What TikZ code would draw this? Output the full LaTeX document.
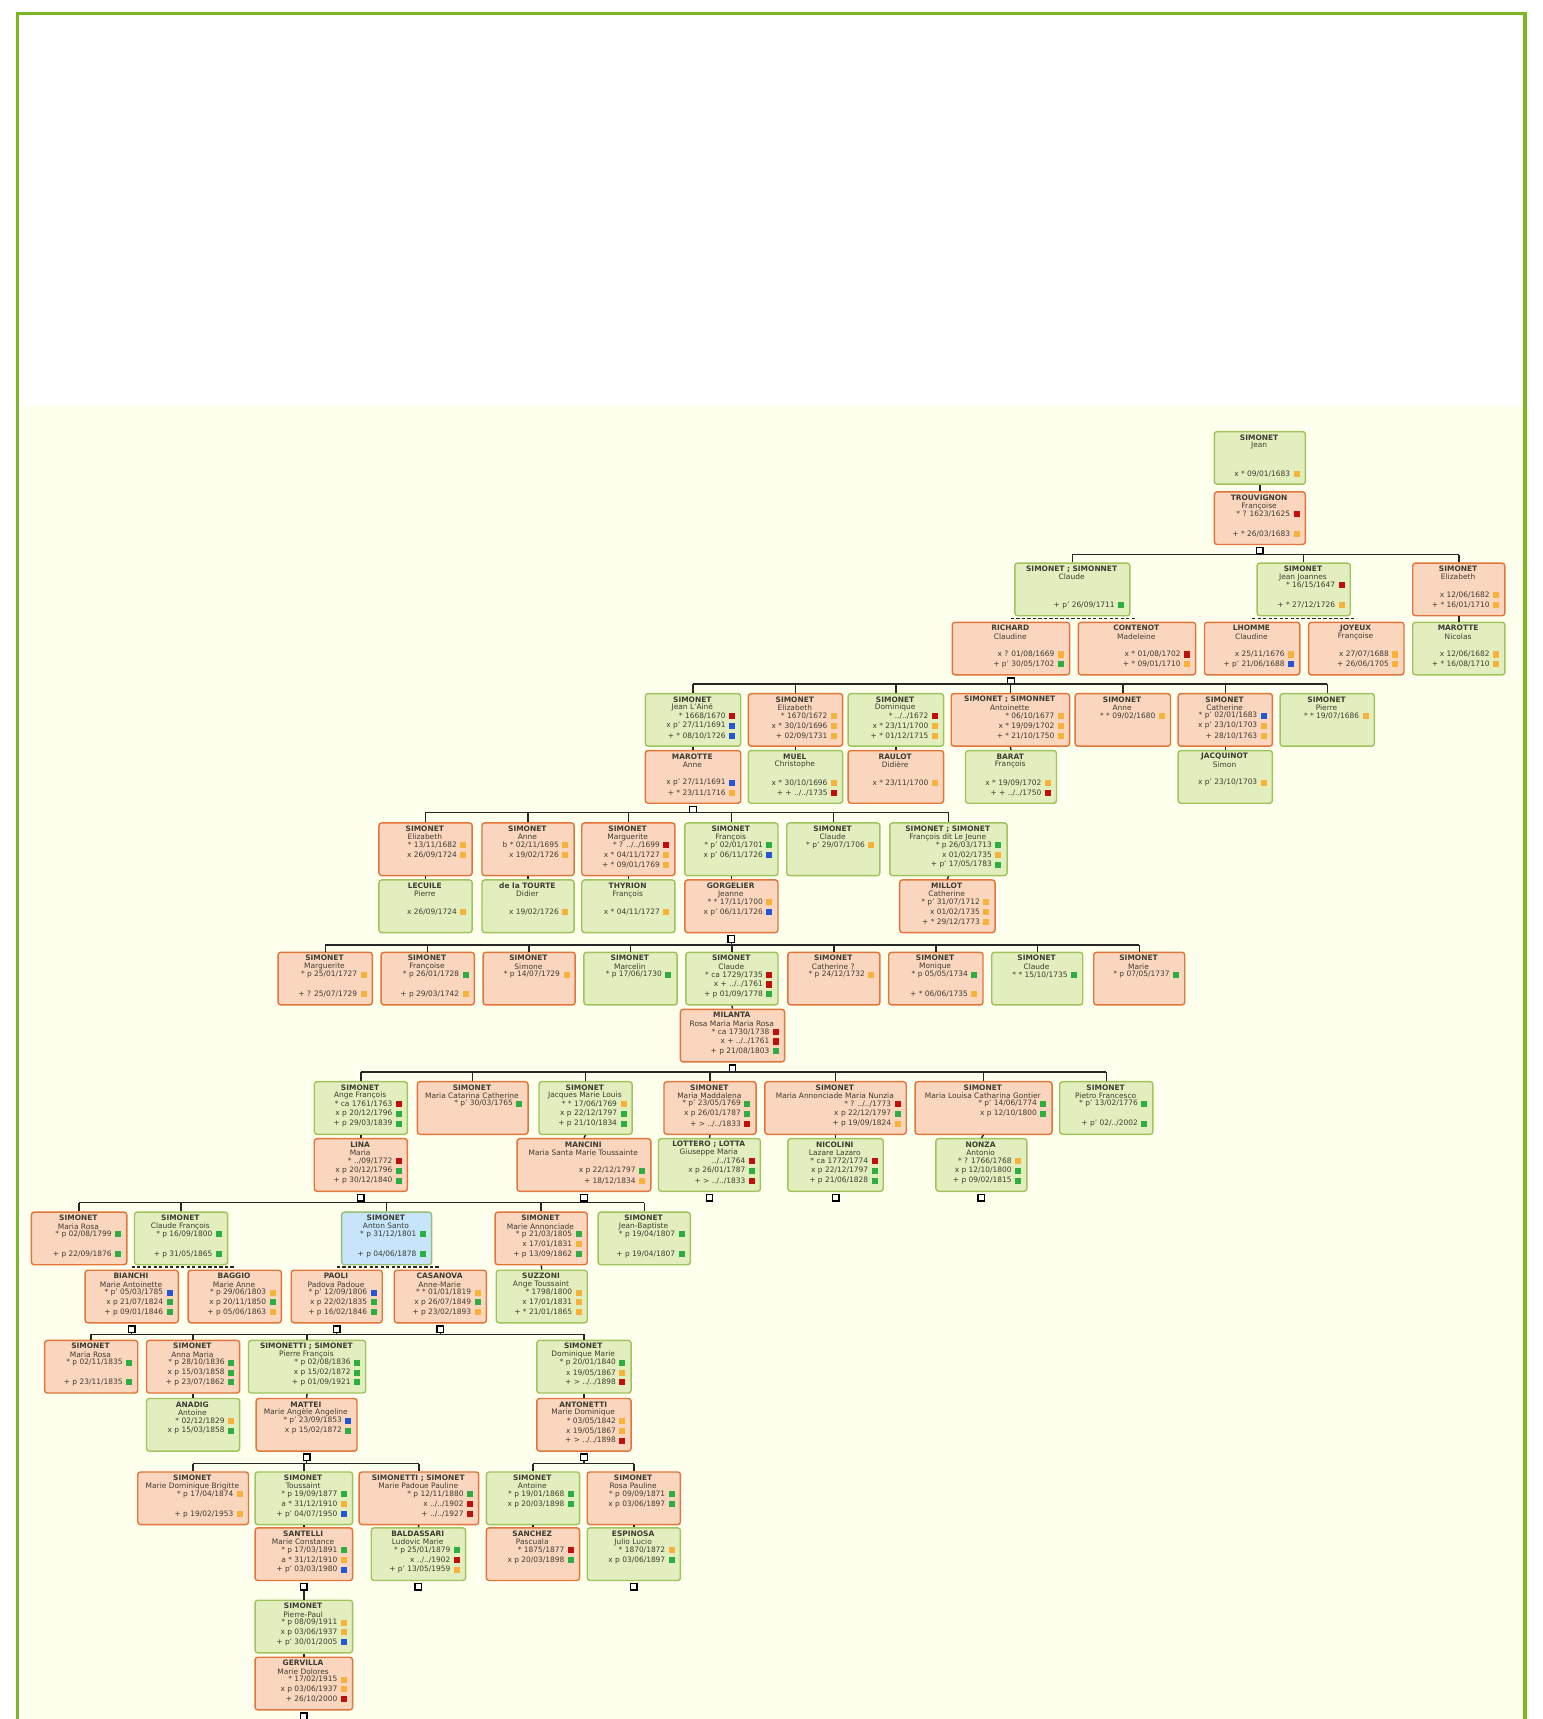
\documentclass[tikz,border=0pt]{standalone}
\usepackage{fontspec}
\setmainfont{DejaVu Sans}
\usetikzlibrary{positioning}
\definecolor{obfill}{RGB}{250,214,190}
\definecolor{obdraw}{RGB}{226,118,58}
\definecolor{gbfill}{RGB}{226,238,190}
\definecolor{gbdraw}{RGB}{160,196,92}
\definecolor{bbfill}{RGB}{198,228,250}
\definecolor{bbdraw}{RGB}{150,190,120}
\definecolor{cream}{RGB}{255,255,238}
\definecolor{framegreen}{RGB}{122,184,30}
\definecolor{sqo}{RGB}{246,178,58}
\definecolor{sqr}{RGB}{192,16,12}
\definecolor{sqg}{RGB}{44,174,64}
\definecolor{sqb}{RGB}{36,86,216}
\definecolor{txt}{RGB}{60,60,50}
\tikzset{
 pbase/.style={rectangle, rounded corners=2.5pt, line width=1.3pt, minimum height=48pt, inner sep=0pt},
 ob/.style={pbase, fill=obfill, draw=obdraw},
 gb/.style={pbase, fill=gbfill, draw=gbdraw},
 bb/.style={pbase, fill=bbfill, draw=bbdraw},
 sn/.style={font=\fontsize{6.8}{7}\selectfont\bfseries, inner sep=0pt, text=txt},
 fn/.style={font=\fontsize{6.8}{7}\selectfont, inner sep=0pt, text=txt},
 dt/.style={font=\fontsize{6.8}{7}\selectfont, inner sep=0pt, text=txt, anchor=east},
 conn/.style={line width=1.3pt, draw=black!85},
 dconn/.style={line width=1.3pt, draw=black!85, dash pattern=on 3pt off 2pt},
 famm/.style={rectangle, draw=black, fill=white, line width=1.2pt, minimum size=6pt, inner sep=0pt},
}
\newcommand\pbox[7]{%
 \node[#2, minimum width={#4-#3}, anchor=north west] (#1) at (#3,#5) {};
 \node[sn] at ({(#3+#4)/2},#5+6) {#6};
 \node[fn] at ({(#3+#4)/2},#5+13.5) {#7};
 \gdef\curR{#4}\gdef\curT{#5}}
\newcommand\pl[3]{%
 \node[dt] at (\curR-13,\curT+#1) {#2};
 \fill[#3] (\curR-10,\curT+#1-2.75) rectangle ++(5.5,5.5);}
\newcommand\famline[5]{%
 \draw[conn] (#1.south) -- (#1.south |- 0,#2);
 \draw[conn] (#3.north |- 0,#2) -- (#4.north |- 0,#2);
 \foreach \n in {#5}{\draw[conn] (\n.north) -- (\n.north |- 0,#2);}}
\newcommand\spouse[2]{\draw[conn] (#1.south) -- (#2.north);}
\newcommand\fmark[2]{\node[famm, below=1.5pt of #2] (#1) {};}
\begin{document}
\begin{tikzpicture}[x=1pt,y=-1pt]
\useasboundingbox (0,0) rectangle (1407,1568);
\fill[white] (0,0) rectangle (1407,1568);
\fill[cream] (20,370) rectangle (1389,1568);
\draw[framegreen, line width=3pt] (16,12.5) rectangle (1391,1600);
% Row 1
\pbox{jean}{gb}{1107}{1190}{393}{SIMONET}{Jean}\pl{39}{x * 09/01/1683}{sqo}
\pbox{trouv}{ob}{1107}{1190}{448}{TROUVIGNON}{Françoise}\pl{21}{* ? 1623/1625}{sqr}\pl{39}{+ * 26/03/1683}{sqo}
% Row 2
\pbox{claude}{gb}{925}{1030}{513}{SIMONET ; SIMONNET}{Claude}\pl{39}{+ p' 26/09/1711}{sqg}
\pbox{jj}{gb}{1146}{1231}{513}{SIMONET}{Jean Joannes}\pl{21}{* 16/15/1647}{sqr}\pl{39}{+ * 27/12/1726}{sqo}
\pbox{eliz}{ob}{1288}{1372}{513}{SIMONET}{Elizabeth}\pl{30}{x 12/06/1682}{sqo}\pl{39}{+ * 16/01/1710}{sqo}
\pbox{richard}{ob}{868}{975}{567}{RICHARD}{Claudine}\pl{30}{x ? 01/08/1669}{sqo}\pl{39}{+ p' 30/05/1702}{sqg}
\pbox{contenot}{ob}{983}{1090}{567}{CONTENOT}{Madeleine}\pl{30}{x * 01/08/1702}{sqr}\pl{39}{+ * 09/01/1710}{sqo}
\pbox{lhomme}{ob}{1098}{1185}{567}{LHOMME}{Claudine}\pl{30}{x 25/11/1676}{sqo}\pl{39}{+ p' 21/06/1688}{sqb}
\pbox{joyeux}{ob}{1193}{1280}{567}{JOYEUX}{Françoise}\pl{30}{x 27/07/1688}{sqo}\pl{39}{+ 26/06/1705}{sqo}
\pbox{marotten}{gb}{1288}{1372}{567}{MAROTTE}{Nicolas}\pl{30}{x 12/06/1682}{sqo}\pl{39}{+ * 16/08/1710}{sqo}
% Row 3
\pbox{jla}{gb}{588}{675}{632}{SIMONET}{Jean L'Ainé}\pl{21}{* 1668/1670}{sqr}\pl{30}{x p' 27/11/1691}{sqb}\pl{39}{+ * 08/10/1726}{sqb}
\pbox{marottea}{ob}{588}{675}{684}{MAROTTE}{Anne}\pl{30}{x p' 27/11/1691}{sqb}\pl{39}{+ * 23/11/1716}{sqo}
\pbox{eliz2}{ob}{682}{768}{632}{SIMONET}{Elizabeth}\pl{21}{* 1670/1672}{sqo}\pl{30}{x * 30/10/1696}{sqo}\pl{39}{+ 02/09/1731}{sqo}
\pbox{muel}{gb}{682}{768}{684}{MUEL}{Christophe}\pl{30}{x * 30/10/1696}{sqo}\pl{39}{+ + ../../1735}{sqr}
\pbox{domin}{gb}{773}{860}{632}{SIMONET}{Dominique}\pl{21}{* ../../1672}{sqr}\pl{30}{x * 23/11/1700}{sqo}\pl{39}{+ * 01/12/1715}{sqo}
\pbox{raulot}{ob}{773}{860}{684}{RAULOT}{Didière}\pl{30}{x * 23/11/1700}{sqo}
\pbox{antoin}{ob}{867}{975}{632}{SIMONET ; SIMONNET}{Antoinette}\pl{21}{* 06/10/1677}{sqo}\pl{30}{x * 19/09/1702}{sqo}\pl{39}{+ * 21/10/1750}{sqo}
\pbox{barat}{gb}{880}{963}{684}{BARAT}{François}\pl{30}{x * 19/09/1702}{sqo}\pl{39}{+ + ../../1750}{sqr}
\pbox{anne1}{ob}{980}{1067}{632}{SIMONET}{Anne}\pl{21}{* * 09/02/1680}{sqo}
\pbox{cath1}{ob}{1074}{1160}{632}{SIMONET}{Catherine}\pl{21}{* p' 02/01/1683}{sqb}\pl{30}{x p' 23/10/1703}{sqo}\pl{39}{+ 28/10/1763}{sqo}
\pbox{jacq}{gb}{1074}{1160}{684}{JACQUINOT}{Simon}\pl{30}{x p' 23/10/1703}{sqo}
\pbox{pierre1}{gb}{1167}{1253}{632}{SIMONET}{Pierre}\pl{21}{* * 19/07/1686}{sqo}
% Row 4
\pbox{eliz3}{ob}{345}{430}{750}{SIMONET}{Elizabeth}\pl{21}{* 13/11/1682}{sqo}\pl{30}{x 26/09/1724}{sqo}
\pbox{lecuile}{gb}{345}{430}{802}{LECUILE}{Pierre}\pl{30}{x 26/09/1724}{sqo}
\pbox{anne2}{ob}{439}{523}{750}{SIMONET}{Anne}\pl{21}{b * 02/11/1695}{sqo}\pl{30}{x 19/02/1726}{sqo}
\pbox{tourte}{gb}{439}{523}{802}{de la TOURTE}{Didier}\pl{30}{x 19/02/1726}{sqo}
\pbox{marg1}{ob}{530}{615}{750}{SIMONET}{Marguerite}\pl{21}{* ? ../../1699}{sqr}\pl{30}{x * 04/11/1727}{sqo}\pl{39}{+ * 09/01/1769}{sqo}
\pbox{thyrion}{gb}{530}{615}{802}{THYRION}{François}\pl{30}{x * 04/11/1727}{sqo}
\pbox{franc1}{gb}{624}{709}{750}{SIMONET}{François}\pl{21}{* p' 02/01/1701}{sqg}\pl{30}{x p' 06/11/1726}{sqb}
\pbox{gorgel}{ob}{624}{709}{802}{GORGELIER}{Jeanne}\pl{21}{* * 17/11/1700}{sqo}\pl{30}{x p' 06/11/1726}{sqb}
\pbox{claude2}{gb}{717}{802}{750}{SIMONET}{Claude}\pl{21}{* p' 29/07/1706}{sqo}
\pbox{fdlj}{gb}{811}{918}{750}{SIMONET ; SIMONET}{François dit Le Jeune}\pl{21}{* p 26/03/1713}{sqg}\pl{30}{x 01/02/1735}{sqo}\pl{39}{+ p' 17/05/1783}{sqg}
\pbox{millot}{ob}{820}{907}{802}{MILLOT}{Catherine}\pl{21}{* p' 31/07/1712}{sqo}\pl{30}{x 01/02/1735}{sqo}\pl{39}{+ * 29/12/1773}{sqo}
% Row 5
\pbox{marg2}{ob}{253}{339}{868}{SIMONET}{Marguerite}\pl{21}{* p 25/01/1727}{sqo}\pl{39}{+ ? 25/07/1729}{sqo}
\pbox{franc2}{ob}{347}{432}{868}{SIMONET}{Françoise}\pl{21}{* p 26/01/1728}{sqg}\pl{39}{+ p 29/03/1742}{sqo}
\pbox{simone}{ob}{440}{524}{868}{SIMONET}{Simone}\pl{21}{* p 14/07/1729}{sqo}
\pbox{marcel}{gb}{532}{617}{868}{SIMONET}{Marcelin}\pl{21}{* p 17/06/1730}{sqg}
\pbox{claude3}{gb}{625}{709}{868}{SIMONET}{Claude}\pl{21}{* ca 1729/1735}{sqr}\pl{30}{x + ../../1761}{sqr}\pl{39}{+ p 01/09/1778}{sqg}
\pbox{milanta}{ob}{620}{715}{920}{MILANTA}{Rosa Maria Maria Rosa}\pl{21}{* ca 1730/1738}{sqr}\pl{30}{x + ../../1761}{sqr}\pl{39}{+ p 21/08/1803}{sqg}
\pbox{cath2}{ob}{718}{802}{868}{SIMONET}{Catherine ?}\pl{21}{* p 24/12/1732}{sqo}
\pbox{moniq}{ob}{810}{896}{868}{SIMONET}{Monique}\pl{21}{* p 05/05/1734}{sqg}\pl{39}{+ * 06/06/1735}{sqo}
\pbox{claude4}{gb}{904}{987}{868}{SIMONET}{Claude}\pl{21}{* * 15/10/1735}{sqg}
\pbox{marie1}{ob}{997}{1080}{868}{SIMONET}{Marie}\pl{21}{* p 07/05/1737}{sqg}
% Row 6
\pbox{ange}{gb}{286}{371}{986}{SIMONET}{Ange François}\pl{21}{* ca 1761/1763}{sqr}\pl{30}{x p 20/12/1796}{sqg}\pl{39}{+ p 29/03/1839}{sqg}
\pbox{lina}{ob}{286}{371}{1038}{LINA}{Maria}\pl{21}{* ../09/1772}{sqr}\pl{30}{x p 20/12/1796}{sqg}\pl{39}{+ p 30/12/1840}{sqg}
\pbox{catarina}{ob}{380}{481}{986}{SIMONET}{Maria Catarina Catherine}\pl{21}{* p' 30/03/1765}{sqg}
\pbox{jacques}{gb}{491}{576}{986}{SIMONET}{Jacques Marie Louis}\pl{21}{* * 17/06/1769}{sqo}\pl{30}{x p 22/12/1797}{sqg}\pl{39}{+ p 21/10/1834}{sqg}
\pbox{mancini}{ob}{471}{593}{1038}{MANCINI}{Maria Santa Marie Toussainte}\pl{30}{x p 22/12/1797}{sqg}\pl{39}{+ 18/12/1834}{sqo}
\pbox{madd}{ob}{605}{689}{986}{SIMONET}{Maria Maddalena}\pl{21}{* p' 23/05/1769}{sqg}\pl{30}{x p 26/01/1787}{sqg}\pl{39}{+ > ../../1833}{sqr}
\pbox{lottero}{gb}{600}{693}{1038}{LOTTERO ; LOTTA}{Giuseppe Maria}\pl{21}{../../1764}{sqr}\pl{30}{x p 26/01/1787}{sqg}\pl{39}{+ > ../../1833}{sqr}
\pbox{annunz}{ob}{697}{826}{986}{SIMONET}{Maria Annonciade Maria Nunzia}\pl{21}{* ? ../../1773}{sqr}\pl{30}{x p 22/12/1797}{sqg}\pl{39}{+ p 19/09/1824}{sqo}
\pbox{nicolini}{gb}{718}{805}{1038}{NICOLINI}{Lazare Lazaro}\pl{21}{* ca 1772/1774}{sqr}\pl{30}{x p 22/12/1797}{sqg}\pl{39}{+ p 21/06/1828}{sqg}
\pbox{louisa}{ob}{834}{959}{986}{SIMONET}{Maria Louisa Catharina Gontier}\pl{21}{* p' 14/06/1774}{sqg}\pl{30}{x p 12/10/1800}{sqg}
\pbox{nonza}{gb}{853}{936}{1038}{NONZA}{Antonio}\pl{21}{* ? 1766/1768}{sqo}\pl{30}{x p 12/10/1800}{sqg}\pl{39}{+ p 09/02/1815}{sqg}
\pbox{pietro}{gb}{966}{1051}{986}{SIMONET}{Pietro Francesco}\pl{21}{* p' 13/02/1776}{sqg}\pl{39}{+ p' 02/../2002}{sqg}
% Row 7
\pbox{mrosa1}{ob}{28}{115}{1105}{SIMONET}{Maria Rosa}\pl{21}{* p 02/08/1799}{sqg}\pl{39}{+ p 22/09/1876}{sqg}
\pbox{cfranc}{gb}{122}{207}{1105}{SIMONET}{Claude François}\pl{21}{* p 16/09/1800}{sqg}\pl{39}{+ p 31/05/1865}{sqg}
\pbox{bianchi}{ob}{77}{162}{1158}{BIANCHI}{Marie Antoinette}\pl{21}{* p' 05/03/1785}{sqb}\pl{30}{x p 21/07/1824}{sqg}\pl{39}{+ p 09/01/1846}{sqg}
\pbox{baggio}{ob}{171}{256}{1158}{BAGGIO}{Marie Anne}\pl{21}{* p 29/06/1803}{sqo}\pl{30}{x p 20/11/1850}{sqg}\pl{39}{+ p 05/06/1863}{sqo}
\pbox{anton}{bb}{311}{393}{1105}{SIMONET}{Anton Santo}\pl{21}{* p 31/12/1801}{sqg}\pl{39}{+ p 04/06/1878}{sqg}
\pbox{paoli}{ob}{265}{348}{1158}{PAOLI}{Padova Padoue}\pl{21}{* p' 12/09/1806}{sqb}\pl{30}{x p 22/02/1835}{sqg}\pl{39}{+ p 16/02/1846}{sqg}
\pbox{casanova}{ob}{359}{443}{1158}{CASANOVA}{Anne-Marie}\pl{21}{* * 01/01/1819}{sqo}\pl{30}{x p 26/07/1849}{sqg}\pl{39}{+ p 23/02/1893}{sqo}
\pbox{mannon}{ob}{451}{535}{1105}{SIMONET}{Marie Annonciade}\pl{21}{* p 21/03/1805}{sqg}\pl{30}{x 17/01/1831}{sqo}\pl{39}{+ p 13/09/1862}{sqg}
\pbox{suzzoni}{gb}{452}{535}{1158}{SUZZONI}{Ange Toussaint}\pl{21}{* 1798/1800}{sqo}\pl{30}{x 17/01/1831}{sqo}\pl{39}{+ * 21/01/1865}{sqo}
\pbox{jb}{gb}{545}{629}{1105}{SIMONET}{Jean-Baptiste}\pl{21}{* p 19/04/1807}{sqg}\pl{39}{+ p 19/04/1807}{sqg}
% Row 8
\pbox{mrosa2}{ob}{40}{125}{1222}{SIMONET}{Maria Rosa}\pl{21}{* p 02/11/1835}{sqg}\pl{39}{+ p 23/11/1835}{sqg}
\pbox{annam}{ob}{133}{218}{1222}{SIMONET}{Anna Maria}\pl{21}{* p 28/10/1836}{sqg}\pl{30}{x p 15/03/1858}{sqg}\pl{39}{+ p 23/07/1862}{sqg}
\pbox{anadig}{gb}{133}{218}{1275}{ANADIG}{Antoine}\pl{21}{* 02/12/1829}{sqo}\pl{30}{x p 15/03/1858}{sqg}
\pbox{pfranc}{gb}{226}{333}{1222}{SIMONETTI ; SIMONET}{Pierre François}\pl{21}{* p 02/08/1836}{sqg}\pl{30}{x p 15/02/1872}{sqg}\pl{39}{+ p 01/09/1921}{sqg}
\pbox{mattei}{ob}{233}{325}{1275}{MATTEI}{Marie Angèle Angeline}\pl{21}{* p' 23/09/1853}{sqb}\pl{30}{x p 15/02/1872}{sqg}
\pbox{dmarie}{gb}{489}{575}{1222}{SIMONET}{Dominique Marie}\pl{21}{* p 20/01/1840}{sqg}\pl{30}{x 19/05/1867}{sqo}\pl{39}{+ > ../../1898}{sqr}
\pbox{antonetti}{ob}{489}{575}{1275}{ANTONETTI}{Marie Dominique}\pl{21}{* 03/05/1842}{sqo}\pl{30}{x 19/05/1867}{sqo}\pl{39}{+ > ../../1898}{sqr}
% Row 9
\pbox{brig}{ob}{125}{226}{1342}{SIMONET}{Marie Dominique Brigitte}\pl{21}{* p 17/04/1874}{sqo}\pl{39}{+ p 19/02/1953}{sqo}
\pbox{touss}{gb}{232}{321}{1342}{SIMONET}{Toussaint}\pl{21}{* p 19/09/1877}{sqg}\pl{30}{a * 31/12/1910}{sqo}\pl{39}{+ p' 04/07/1950}{sqb}
\pbox{santelli}{ob}{232}{321}{1393}{SANTELLI}{Marie Constance}\pl{21}{* p 17/03/1891}{sqg}\pl{30}{a * 31/12/1910}{sqo}\pl{39}{+ p' 03/03/1980}{sqb}
\pbox{pauline}{ob}{327}{436}{1342}{SIMONETTI ; SIMONET}{Marie Padoue Pauline}\pl{21}{* p 12/11/1880}{sqg}\pl{30}{x ../../1902}{sqr}\pl{39}{+ ../../1927}{sqr}
\pbox{baldas}{gb}{338}{424}{1393}{BALDASSARI}{Ludovic Marie}\pl{21}{* p 25/01/1879}{sqg}\pl{30}{x ../../1902}{sqr}\pl{39}{+ p' 13/05/1959}{sqo}
\pbox{antoine}{gb}{443}{528}{1342}{SIMONET}{Antoine}\pl{21}{* p 19/01/1868}{sqg}\pl{30}{x p 20/03/1898}{sqg}
\pbox{sanchez}{ob}{443}{528}{1393}{SANCHEZ}{Pascuala}\pl{21}{* 1875/1877}{sqr}\pl{30}{x p 20/03/1898}{sqg}
\pbox{rosap}{ob}{535}{620}{1342}{SIMONET}{Rosa Pauline}\pl{21}{* p 09/09/1871}{sqg}\pl{30}{x p 03/06/1897}{sqg}
\pbox{espinosa}{gb}{535}{620}{1393}{ESPINOSA}{Julio Lucio}\pl{21}{* 1870/1872}{sqo}\pl{30}{x p 03/06/1897}{sqg}
% Row 10
\pbox{ppaul}{gb}{232}{321}{1459}{SIMONET}{Pierre-Paul}\pl{21}{* p 08/09/1911}{sqo}\pl{30}{x p 03/06/1937}{sqo}\pl{39}{+ p' 30/01/2005}{sqb}
\pbox{gervilla}{ob}{232}{321}{1511}{GERVILLA}{Marie Dolores}\pl{21}{* 17/02/1915}{sqo}\pl{30}{x p 03/06/1937}{sqo}\pl{39}{+ 26/10/2000}{sqr}
% spouse links
\spouse{jean}{trouv}\spouse{eliz}{marotten}
\spouse{jla}{marottea}\spouse{eliz2}{muel}\spouse{domin}{raulot}\spouse{antoin}{barat}\spouse{cath1}{jacq}
\spouse{eliz3}{lecuile}\spouse{anne2}{tourte}\spouse{marg1}{thyrion}\spouse{franc1}{gorgel}\spouse{fdlj}{millot}
\spouse{claude3}{milanta}
\spouse{ange}{lina}\spouse{jacques}{mancini}\spouse{madd}{lottero}\spouse{annunz}{nicolini}\spouse{louisa}{nonza}
\spouse{mannon}{suzzoni}
\spouse{annam}{anadig}\spouse{pfranc}{mattei}\spouse{dmarie}{antonetti}
\spouse{touss}{santelli}\spouse{pauline}{baldas}\spouse{antoine}{sanchez}\spouse{rosap}{espinosa}
\spouse{ppaul}{gervilla}
% multiple marriages
\draw[dconn] (richard.north |- 0,564) -- (contenot.north |- 0,564);
\draw[dconn] (lhomme.north |- 0,564) -- (joyeux.north |- 0,564);
\draw[dconn] (bianchi.north |- 0,1155.5) -- (baggio.north |- 0,1155.5);
\draw[dconn] (paoli.north |- 0,1155.5) -- (casanova.north |- 0,1155.5);
% family markers
\fmark{ftrouv}{trouv}\fmark{frichard}{richard}\fmark{fmarottea}{marottea}\fmark{fgorgel}{gorgel}
\fmark{fmilanta}{milanta}\fmark{flina}{lina}\fmark{fmancini}{mancini}\fmark{flottero}{lottero}
\fmark{fnicolini}{nicolini}\fmark{fnonza}{nonza}\fmark{fbianchi}{bianchi}\fmark{fpaoli}{paoli}
\fmark{fcasanova}{casanova}\fmark{fmattei}{mattei}\fmark{fantonetti}{antonetti}\fmark{fsantelli}{santelli}
\fmark{fbaldas}{baldas}\fmark{fespinosa}{espinosa}\fmark{fgervilla}{gervilla}
% descent lines
\famline{ftrouv}{506}{claude}{eliz}{claude,jj,eliz}
\famline{frichard}{624}{jla}{pierre1}{jla,eliz2,domin,antoin,anne1,cath1,pierre1}
\famline{fmarottea}{741}{eliz3}{fdlj}{eliz3,anne2,marg1,franc1,claude2,fdlj}
\famline{fgorgel}{862}{marg2}{marie1}{marg2,franc2,simone,marcel,claude3,cath2,moniq,claude4,marie1}
\famline{fmilanta}{978}{ange}{pietro}{ange,catarina,jacques,madd,annunz,louisa,pietro}
\famline{flina}{1097}{mrosa1}{jb}{mrosa1,cfranc,anton,mannon,jb}
\draw[conn] (fmancini.south) -- (fmancini.south |- 0,1097);
\famline{fbianchi}{1217}{mrosa2}{dmarie}{mrosa2,annam,pfranc,dmarie}
\draw[conn] (fpaoli.south) -- (fpaoli.south |- 0,1217);
\draw[conn] (fcasanova.south) -- (fcasanova.south |- 0,1217);
\famline{fmattei}{1335}{brig}{pauline}{brig,touss,pauline}
\famline{fantonetti}{1335}{antoine}{rosap}{antoine,rosap}
\draw[conn] (fsantelli.south) -- (ppaul.north);
\end{tikzpicture}
\end{document}
